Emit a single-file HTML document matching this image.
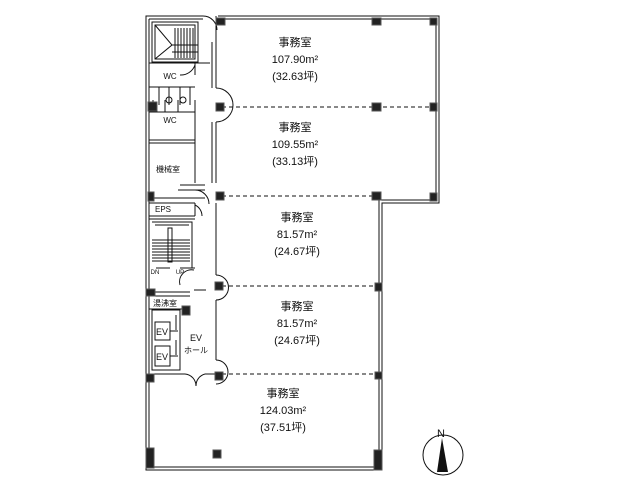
<!DOCTYPE html>
<html><head><meta charset="utf-8"><style>
html,body{margin:0;padding:0;background:#fff;}
svg{display:block;}
text{font-family:"Liberation Sans","Noto Sans CJK JP",sans-serif;fill:#111;}
</style></head><body>
<svg width="640" height="480" viewBox="0 0 640 480" xmlns="http://www.w3.org/2000/svg">
<g fill="none" stroke="#111" stroke-width="1">
<!-- outer walls -->
<path d="M218 16 H439 V203 H382 V470 H146 V16 H203"/>
<path d="M149 19 H203 M221 19 H436 V200 H379 V467 H149 V19"/>
<!-- corridor walls -->
<path d="M216 16 V88 M216 122 V183 M216 203 V275 M216 300 V360"/>
<path d="M212 42 V88 M212 122 V183"/>
<!-- stair top -->
<path d="M152 22 H198 V62 H152 Z"/>
<path d="M155 25 H195 V59 H155 Z"/>
<path d="M155 25 L172 45 L155 59"/>
<path d="M172 45 H198 M172 52 H198"/>
<path d="M175 28 V58 M178 28 V58 M181 28 V58 M184 28 V58 M187 28 V58 M190 28 V58 M193 28 V58"/>
<!-- WC -->
<path d="M149 63 H210 M149 87 H195 M149 112 H195 M149 140 H195 M149 143 H195"/>
<path d="M195 63 V75 M195 100 V143"/>
<path d="M159 87 V105 M169 87 V105 M180 87 V105 M190 87 V105"/>
<path d="M153 100 V112 M165 100 V112 M178 100 V112"/>
<circle cx="169" cy="100" r="3"/><circle cx="183" cy="100" r="3"/>
<path d="M180 75 A15 15 0 0 0 195 65"/>
<!-- 機械室 -->
<path d="M149 143 H195 V183 M149 198 H205 M149 203 H195"/>
<path d="M178 190 H205 M180 185 H205"/>
<path d="M195 190 A14 14 0 0 1 209 204"/>
<!-- EPS -->
<path d="M149 216 H195 M149 219 H195 M195 203 V216"/>
<path d="M195 205 A12 12 0 0 1 202 216"/>
<!-- stair 2 -->
<path d="M152 222 H192 V268 M155 225 H189"/>
<path d="M168 228 H172 V262 H168 Z"/>
<path d="M152 240 H190 M152 243 H190 M152 246 H190 M152 249 H190 M152 252 H190 M152 255 H190 M152 258 H190 M152 261 H190"/>
<path d="M156 268 H170 M180 268 H195"/>
<path d="M194 270 A12 12 0 0 0 180 285 M194 290 H206"/>
<!-- 湯沸室 -->
<path d="M149 292 H190 M149 296 H190 M149 309 H185"/>
<path d="M152 310 H180 V370 H152 Z"/>
<path d="M155 322 H170 V340 H155 Z M155 346 H170 V366 H155 Z"/>
<path d="M170 331 H178 M170 356 H178"/>
<path d="M176 315 V330 M176 340 V355"/>
<path d="M152 374 H185 M205 374 H215"/>
<path d="M185 374 A12 12 0 0 1 196 386 M205 374 A12 12 0 0 0 196 386"/>
<path d="M216 360 A12 12 0 0 1 216 384"/>
<path d="M216 88 A12 12 0 0 1 216 122"/>
<path d="M216 275 A12 12 0 0 1 216 300"/>
<path d="M203 16 A14 14 0 0 1 217 30"/>
</g>
<!-- dashed partitions -->
<g stroke="#111" stroke-width="1" stroke-dasharray="4,3" fill="none">
<path d="M222 107 H436"/><path d="M222 196 H380"/><path d="M222 286 H380"/><path d="M222 374 H380"/>
</g>
<!-- columns -->
<g fill="#222" stroke="#555" stroke-width="1">
<rect x="216" y="18" width="9" height="7"/><rect x="372" y="18" width="9" height="7"/><rect x="430" y="18" width="7" height="7"/>
<rect x="148" y="102" width="9" height="9"/><rect x="216" y="103" width="8" height="8"/><rect x="372" y="103" width="9" height="8"/><rect x="430" y="103" width="7" height="8"/>
<rect x="148" y="192" width="6" height="9"/><rect x="216" y="192" width="8" height="8"/><rect x="372" y="192" width="9" height="8"/><rect x="430" y="193" width="7" height="8"/>
<rect x="146" y="289" width="9" height="7"/><rect x="182" y="306" width="8" height="9"/><rect x="215" y="282" width="8" height="8"/><rect x="375" y="283" width="7" height="8"/>
<rect x="146" y="374" width="8" height="8"/><rect x="215" y="372" width="8" height="8"/><rect x="375" y="372" width="7" height="7"/>
<rect x="146" y="448" width="8" height="20"/><rect x="213" y="450" width="8" height="8"/><rect x="374" y="450" width="8" height="20"/>
</g>
<!-- labels -->
<g font-size="11" text-anchor="middle">
<text x="295" y="46">事務室</text><text x="295" y="63">107.90m²</text><text x="295" y="80">(32.63坪)</text>
<text x="295" y="131">事務室</text><text x="295" y="148">109.55m²</text><text x="295" y="165">(33.13坪)</text>
<text x="297" y="221">事務室</text><text x="297" y="238">81.57m²</text><text x="297" y="255">(24.67坪)</text>
<text x="297" y="310">事務室</text><text x="297" y="327">81.57m²</text><text x="297" y="344">(24.67坪)</text>
<text x="283" y="397">事務室</text><text x="283" y="414">124.03m²</text><text x="283" y="431">(37.51坪)</text>
</g>
<g font-size="8" text-anchor="middle">
<text x="170" y="79">WC</text><text x="170" y="123">WC</text>
<text x="168" y="172">機械室</text><text x="163" y="212">EPS</text>
<text x="165" y="306">湯沸室</text>
<text x="162" y="335" font-size="9">EV</text><text x="162" y="360" font-size="9">EV</text>
<text x="196" y="341" font-size="9">EV</text><text x="196" y="353">ホール</text>
<text x="155" y="274" font-size="6">DN</text><text x="180" y="274" font-size="6">UP</text>
</g>
<!-- north arrow -->
<circle cx="443" cy="455" r="20" fill="none" stroke="#111"/>
<polygon points="442,438 437,472 448,472" fill="#111"/>
<text x="441" y="437" font-size="11" text-anchor="middle">N</text>
</svg>
</body></html>
